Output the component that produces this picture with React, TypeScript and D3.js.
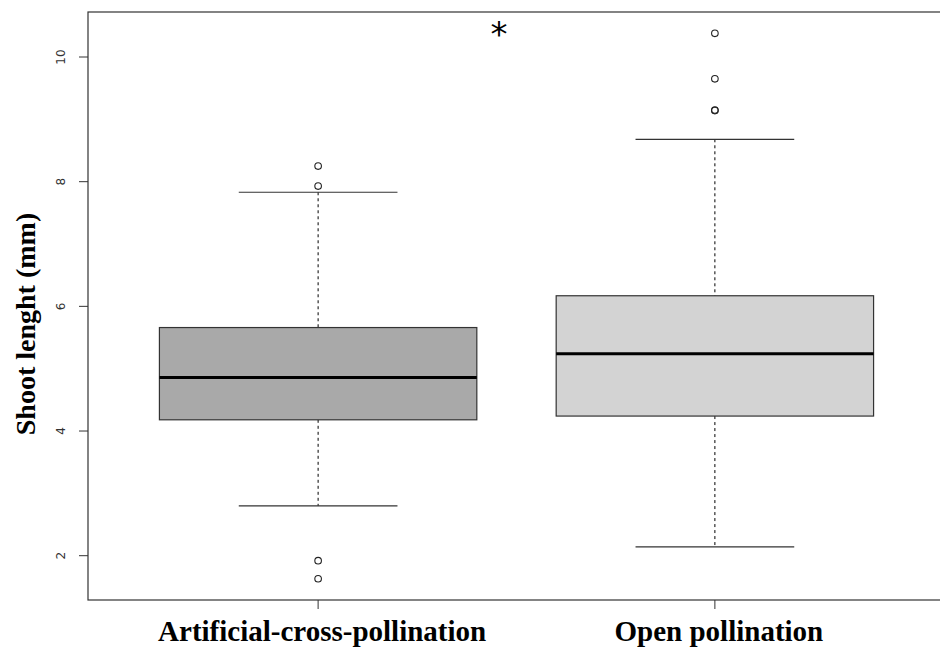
import React from "react";
import * as d3 from "d3";

const categories = ["Artificial-cross-pollination", "Open pollination"];
const whiskerLow = [2.8, 2.14];
const q1 = [4.18, 4.24];
const median = [4.86, 5.24];
const q3 = [5.66, 6.17];
const whiskerHigh = [7.83, 8.68];
const outliers = [
  [8.25, 7.93, 1.92, 1.63],
  [10.38, 9.65, 9.15, 9.14],
];
const fills = ["#a9a9a9", "#d3d3d3"];
const yTicks = [2, 4, 6, 8, 10];

export default function App() {
  const W = 940, H = 648;
  const x = d3.scaleLinear().domain([0.42, 2.58]).range([88, 945]);
  const y = d3.scaleLinear().domain([2, 10]).range([555.7, 57]);
  const y0 = y.invert(600), y1 = y.invert(12);
  const bw = x(1.4) - x(1);
  return (
    <div style={{ position: "fixed", left: 0, top: 0, width: W, height: H, background: "#fff" }}>
      <svg width={W} height={H} style={{ display: "block" }}>
        <rect x={0} y={0} width={W} height={H} fill="#fff" />
        {categories.map((c, i) => {
          const cx = x(i + 1);
          return (
            <g key={c}>
              <line x1={cx} x2={cx} y1={y(whiskerHigh[i])} y2={y(q3[i])} stroke="#000" strokeWidth={1} strokeDasharray="3,3" />
              <line x1={cx} x2={cx} y1={y(q1[i])} y2={y(whiskerLow[i])} stroke="#000" strokeWidth={1} strokeDasharray="3,3" />
              <line x1={cx - bw / 2} x2={cx + bw / 2} y1={y(whiskerHigh[i])} y2={y(whiskerHigh[i])} stroke="#333" strokeWidth={1.2} />
              <line x1={cx - bw / 2} x2={cx + bw / 2} y1={y(whiskerLow[i])} y2={y(whiskerLow[i])} stroke="#333" strokeWidth={1.2} />
              <rect x={cx - bw} y={y(q3[i])} width={bw * 2} height={y(q1[i]) - y(q3[i])} fill={fills[i]} stroke="#333" strokeWidth={1.2} />
              <line x1={cx - bw} x2={cx + bw} y1={y(median[i])} y2={y(median[i])} stroke="#000" strokeWidth={3} />
              {outliers[i].map((o, j) => (
                <circle key={j} cx={cx} cy={y(o)} r={3.3} fill="none" stroke="#222" strokeWidth={1.1} />
              ))}
              <line x1={cx} x2={cx} y1={600} y2={609} stroke="#333" strokeWidth={1} />
              <text x={cx + 4} y={641} textAnchor="middle" fontFamily="'Liberation Serif', 'DejaVu Serif', serif" fontWeight="bold" fontSize={29} fill="#000">{c}</text>
            </g>
          );
        })}
        <rect x={x(0.42)} y={y(y1)} width={x(2.58) - x(0.42)} height={y(y0) - y(y1)} fill="none" stroke="#333" strokeWidth={1.2} />
        {yTicks.map((t) => (
          <g key={t}>
            <line x1={79} x2={88} y1={y(t)} y2={y(t)} stroke="#333" strokeWidth={1} />
            <text transform={`translate(65,${y(t)}) rotate(-90)`} textAnchor="middle" fontFamily="'DejaVu Sans', sans-serif" fontSize={12} fill="#333">{t}</text>
          </g>
        ))}
        <text transform={`translate(35,${(12 + 600) / 2 + 18}) rotate(-90)`} textAnchor="middle" fontFamily="'Liberation Serif', 'DejaVu Serif', serif" fontWeight="bold" fontSize={28} fill="#000">Shoot lenght (mm)</text>
        <text x={499} y={46} textAnchor="middle" fontFamily="'DejaVu Sans', sans-serif" fontSize={34} fill="#000">*</text>
      </svg>
    </div>
  );
}
